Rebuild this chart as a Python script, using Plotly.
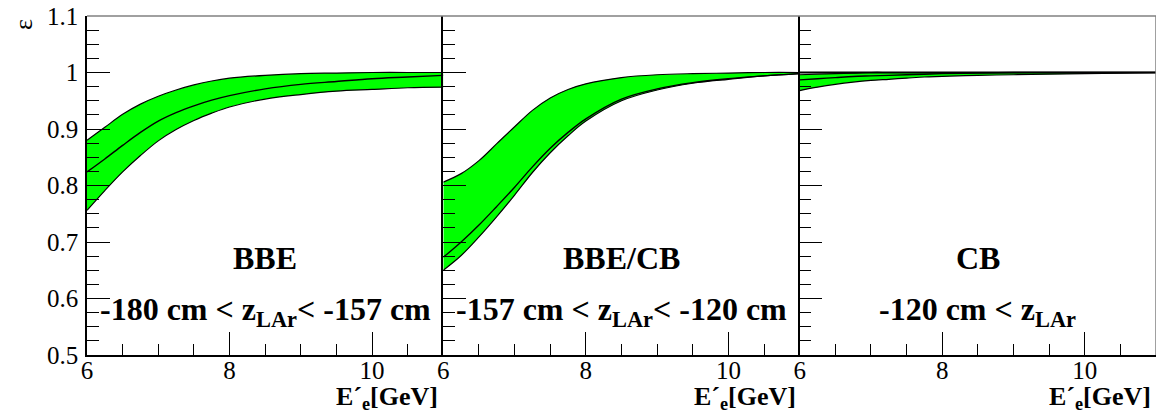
import plotly.graph_objects as go

# ---- data ----
energy = [6, 6.25, 6.5, 6.75, 7, 7.25, 7.5, 7.75, 8, 8.5, 9, 9.5, 10, 10.5, 11]

bbe_upper = [0.880, 0.903, 0.926, 0.944, 0.958, 0.969, 0.978, 0.985, 0.990, 0.995, 0.998, 0.999, 1.000, 1.000, 1.000]
bbe_central = [0.824, 0.847, 0.871, 0.894, 0.914, 0.929, 0.941, 0.951, 0.959, 0.971, 0.979, 0.984, 0.989, 0.992, 0.995]
bbe_lower = [0.756, 0.791, 0.824, 0.853, 0.879, 0.899, 0.915, 0.928, 0.939, 0.953, 0.961, 0.967, 0.970, 0.973, 0.974]

bbecb_upper = [0.806, 0.821, 0.844, 0.874, 0.904, 0.933, 0.955, 0.970, 0.980, 0.991, 0.996, 0.998, 0.999, 1.000, 1.000]
bbecb_central = [0.673, 0.700, 0.730, 0.763, 0.797, 0.833, 0.866, 0.894, 0.918, 0.953, 0.971, 0.982, 0.989, 0.994, 0.998]
bbecb_lower = [0.650, 0.676, 0.709, 0.745, 0.783, 0.823, 0.858, 0.888, 0.914, 0.950, 0.969, 0.981, 0.988, 0.994, 0.998]

cb_upper = [0.996, 0.997, 0.998, 0.999, 1.000, 1.000, 1.000, 1.000, 1.000, 1.000, 1.000, 1.000, 1.000, 1.000, 1.000]
cb_central = [0.987, 0.989, 0.991, 0.993, 0.994, 0.995, 0.996, 0.997, 0.998, 0.999, 1.000, 1.000, 1.000, 1.000, 1.000]
cb_lower = [0.968, 0.974, 0.979, 0.983, 0.986, 0.988, 0.990, 0.992, 0.993, 0.995, 0.996, 0.997, 0.998, 0.999, 1.000]
cb_limit = [1.000] * 15

panel_names = ["BBE", "BBE/CB", "CB"]
panel_ranges = ["-180 cm < z<sub>LAr</sub>< -157 cm",
                "-157 cm < z<sub>LAr</sub>< -120 cm",
                "-120 cm < z<sub>LAr</sub>"]
x_title = "<b>E´<sub>e</sub>[GeV]</b>"
y_title = "ε"

bands = [(bbe_upper, bbe_central, bbe_lower),
         (bbecb_upper, bbecb_central, bbecb_lower),
         (cb_upper, cb_central, cb_lower)]

GREEN = "#00ff00"
FONT = "Liberation Serif, DejaVu Serif, serif"
TICK_SIZE = 25

fig = go.Figure()
for i, (up, mid, lo) in enumerate(bands):
    xa = "x" if i == 0 else f"x{i+1}"
    ya = "y" if i == 0 else f"y{i+1}"
    fig.add_trace(go.Scatter(x=energy, y=up, mode="lines", line=dict(color="black", width=1.2, shape="spline"),
                             xaxis=xa, yaxis=ya, showlegend=False, hoverinfo="skip"))
    fig.add_trace(go.Scatter(x=energy, y=lo, mode="lines", line=dict(color="black", width=1.2, shape="spline"),
                             fill="tonexty", fillcolor=GREEN,
                             xaxis=xa, yaxis=ya, showlegend=False, hoverinfo="skip"))
    fig.add_trace(go.Scatter(x=energy, y=mid, mode="lines", line=dict(color="black", width=1.4, shape="spline"),
                             xaxis=xa, yaxis=ya, showlegend=False, hoverinfo="skip"))
    if i == 2:
        fig.add_trace(go.Scatter(x=energy, y=cb_limit, mode="lines", line=dict(color="black", width=2.2),
                                 xaxis=xa, yaxis=ya, showlegend=False, hoverinfo="skip"))

# the page body has an 8px margin, so the figure is sized/offset to compensate
layout = dict(
    width=1156, height=409,
    margin=dict(l=79, r=8, t=8, b=62, autoexpand=False),
    paper_bgcolor="white", plot_bgcolor="white",
    font=dict(family=FONT, size=TICK_SIZE, color="black"),
    showlegend=False,
)

for i in range(3):
    d0 = i / 3
    d1 = (i + 1) / 3
    xk = "xaxis" if i == 0 else f"xaxis{i+1}"
    yk = "yaxis" if i == 0 else f"yaxis{i+1}"
    ya_ref = "y" if i == 0 else f"y{i+1}"
    xa_ref = "x" if i == 0 else f"x{i+1}"
    layout[xk] = dict(domain=[d0, d1], anchor=ya_ref, range=[6, 11], tick0=6, dtick=2,
                      ticks="inside", ticklen=23, tickwidth=1, tickcolor="black",
                      minor=dict(dtick=0.5, ticks="inside", ticklen=11, tickcolor="black", tickwidth=1),
                      showline=True, linecolor="black", linewidth=1.5, automargin=False,
                      showgrid=False, zeroline=False, ticklabelstandoff=-8, ticklabeloverflow="allow",
                      tickfont=dict(family=FONT, size=TICK_SIZE, color="black"))
    layout[yk] = dict(domain=[0, 1], anchor=xa_ref, range=[0.5, 1.1], tick0=0.5, dtick=0.1,
                      ticks="inside", ticklen=23, tickwidth=1, tickcolor="black",
                      minor=dict(dtick=0.025, ticks="inside", ticklen=12, tickcolor="black", tickwidth=1),
                      showline=True, linecolor="black", linewidth=1.5, automargin=False,
                      showgrid=False, zeroline=False, showticklabels=(i == 0), ticklabelstandoff=2,
                      ticklabeloverflow="allow",
                      tickfont=dict(family=FONT, size=TICK_SIZE, color="black"))

fig.update_layout(**layout)

shapes = [
    dict(type="line", xref="paper", yref="paper", x0=0, x1=1, y0=1, y1=1, line=dict(color="#808080", width=1.5)),
    dict(type="line", xref="paper", yref="paper", x0=1, x1=1, y0=0, y1=1, line=dict(color="#808080", width=1.5)),
]
fig.update_layout(shapes=shapes)

annotations = []
title_x = [0.3302, 0.6651, 0.9972]
for i in range(3):
    xa_ref = "x" if i == 0 else f"x{i+1}"
    ya_ref = "y" if i == 0 else f"y{i+1}"
    annotations.append(dict(x=8.5, y=0.671, xref=xa_ref, yref=ya_ref, text=f"<b>{panel_names[i]}</b>",
                            showarrow=False, font=dict(family=FONT, size=32, color="black"),
                            xanchor="center", yanchor="middle"))
    annotations.append(dict(x=8.5, y=0.577, xref=xa_ref, yref=ya_ref, text=f"<b>{panel_ranges[i]}</b>",
                            showarrow=False, font=dict(family=FONT, size=32, color="black"),
                            xanchor="center", yanchor="middle"))
    annotations.append(dict(x=title_x[i], y=-0.127, xref="paper", yref="paper", text=x_title,
                            showarrow=False, font=dict(family=FONT, size=26, color="black"),
                            xanchor="right", yanchor="middle"))
annotations.append(dict(x=-0.0599, y=0.976, xref="paper", yref="paper", text=y_title, textangle=-90,
                        showarrow=False, font=dict(family=FONT, size=26, color="black"),
                        xanchor="center", yanchor="middle"))
fig.update_layout(annotations=annotations)

fig.write_html("out.html")
